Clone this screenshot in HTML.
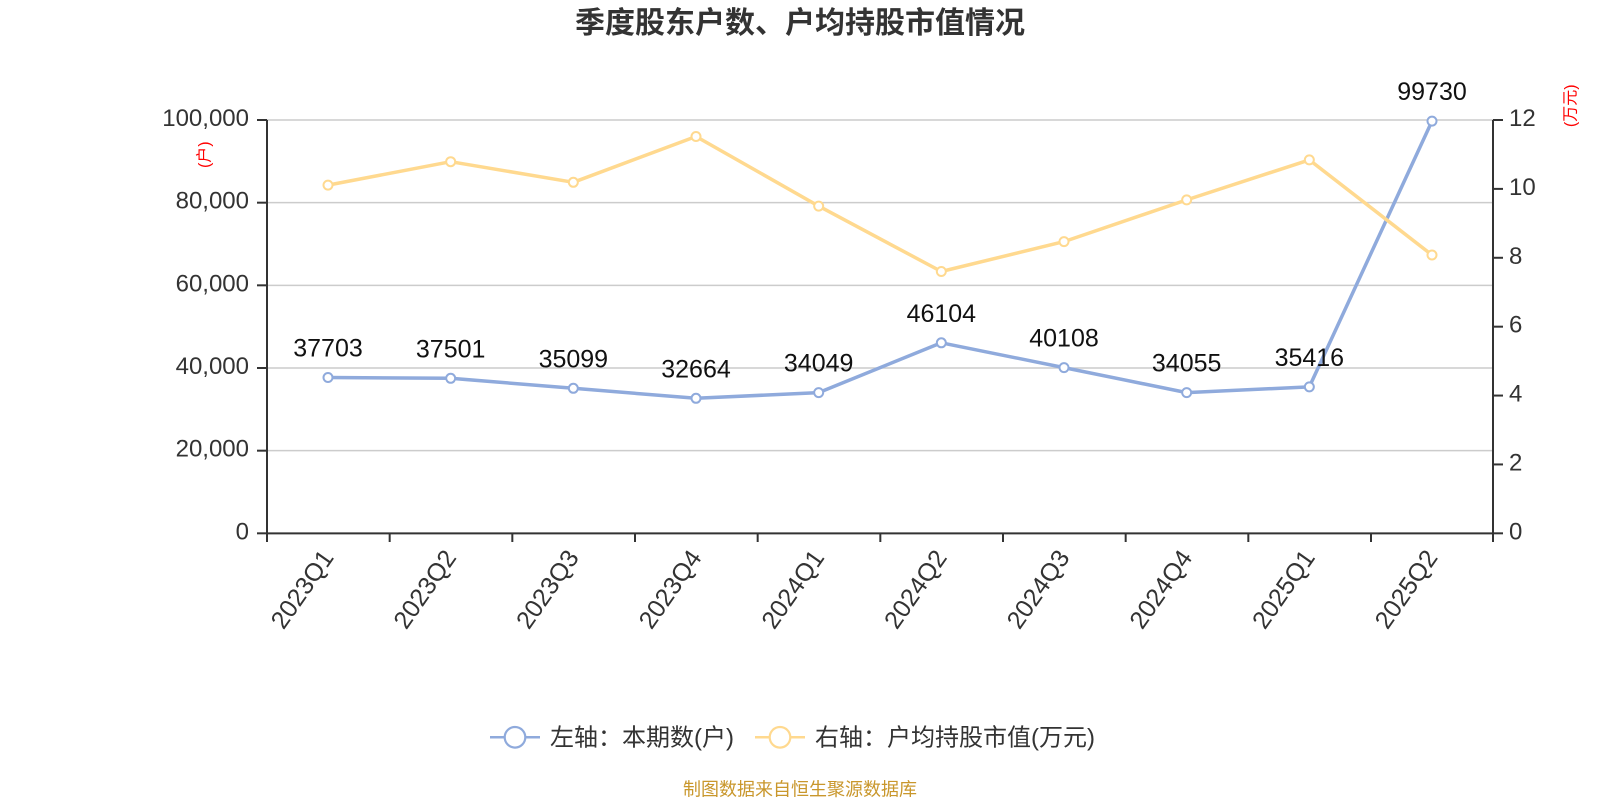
<!DOCTYPE html>
<html>
<head>
<meta charset="utf-8">
<style>
  html,body{margin:0;padding:0;background:#fff;}
  svg{display:block;}
  text{font-family:"Liberation Sans","Noto Sans CJK SC",sans-serif;}
</style>
</head>
<body>
<svg width="1600" height="800" viewBox="0 0 1600 800" xmlns="http://www.w3.org/2000/svg">
  <rect width="1600" height="800" fill="#fff"/>

  <!-- Title -->
  <text x="800" y="33" text-anchor="middle" font-size="30" font-weight="bold" fill="#333">季度股东户数、户均持股市值情况</text>

  <!-- Grid lines -->
  <g stroke="#cccccc" stroke-width="1.5">
    <line x1="267" y1="120" x2="1493" y2="120"/>
    <line x1="267" y1="202.67" x2="1493" y2="202.67"/>
    <line x1="267" y1="285.33" x2="1493" y2="285.33"/>
    <line x1="267" y1="368" x2="1493" y2="368"/>
    <line x1="267" y1="450.67" x2="1493" y2="450.67"/>
  </g>

  <!-- Axes -->
  <g stroke="#333" stroke-width="2" fill="none">
    <line x1="267" y1="120" x2="267" y2="534"/>
    <line x1="1493" y1="120" x2="1493" y2="534"/>
    <line x1="266" y1="533.33" x2="1494" y2="533.33"/>
    <line x1="257" y1="120" x2="267" y2="120"/>
    <line x1="257" y1="202.67" x2="267" y2="202.67"/>
    <line x1="257" y1="285.33" x2="267" y2="285.33"/>
    <line x1="257" y1="368" x2="267" y2="368"/>
    <line x1="257" y1="450.67" x2="267" y2="450.67"/>
    <line x1="257" y1="533.33" x2="267" y2="533.33"/>
    <line x1="1493" y1="120" x2="1503" y2="120"/>
    <line x1="1493" y1="188.89" x2="1503" y2="188.89"/>
    <line x1="1493" y1="257.78" x2="1503" y2="257.78"/>
    <line x1="1493" y1="326.67" x2="1503" y2="326.67"/>
    <line x1="1493" y1="395.56" x2="1503" y2="395.56"/>
    <line x1="1493" y1="464.44" x2="1503" y2="464.44"/>
    <line x1="1493" y1="533.33" x2="1503" y2="533.33"/>
    <line x1="267" y1="533" x2="267" y2="542"/>
    <line x1="389.67" y1="533" x2="389.67" y2="542"/>
    <line x1="512.33" y1="533" x2="512.33" y2="542"/>
    <line x1="635" y1="533" x2="635" y2="542"/>
    <line x1="757.67" y1="533" x2="757.67" y2="542"/>
    <line x1="880.33" y1="533" x2="880.33" y2="542"/>
    <line x1="1003" y1="533" x2="1003" y2="542"/>
    <line x1="1125.67" y1="533" x2="1125.67" y2="542"/>
    <line x1="1248.33" y1="533" x2="1248.33" y2="542"/>
    <line x1="1371" y1="533" x2="1371" y2="542"/>
    <line x1="1493" y1="533" x2="1493" y2="542"/>
  </g>

  <!-- Left axis labels -->
  <g font-size="24" fill="#333" text-anchor="end">
    <text x="249" y="126">100,000</text>
    <text x="249" y="208.67">80,000</text>
    <text x="249" y="291.33">60,000</text>
    <text x="249" y="374">40,000</text>
    <text x="249" y="456.67">20,000</text>
    <text x="249" y="539.33">0</text>
  </g>

  <!-- Right axis labels -->
  <g font-size="24" fill="#333" text-anchor="start">
    <text x="1509" y="126">12</text>
    <text x="1509" y="194.89">10</text>
    <text x="1509" y="263.78">8</text>
    <text x="1509" y="332.67">6</text>
    <text x="1509" y="401.56">4</text>
    <text x="1509" y="470.44">2</text>
    <text x="1509" y="539.33">0</text>
  </g>

  <!-- Axis names -->
  <text x="0" y="0" font-size="16" fill="#ff0000" text-anchor="middle" dominant-baseline="central" transform="translate(205,154.7) rotate(-90)">(户)</text>
  <text x="0" y="0" font-size="16" fill="#ff0000" text-anchor="middle" dominant-baseline="central" transform="translate(1571,105.8) rotate(-90)">(万元)</text>

  <!-- X axis labels -->
  <g font-size="25" fill="#333" text-anchor="end" dominant-baseline="central">
    <text transform="translate(328,553) rotate(-55)">2023Q1</text>
    <text transform="translate(450.67,553) rotate(-55)">2023Q2</text>
    <text transform="translate(573.33,553) rotate(-55)">2023Q3</text>
    <text transform="translate(696,553) rotate(-55)">2023Q4</text>
    <text transform="translate(818.67,553) rotate(-55)">2024Q1</text>
    <text transform="translate(941.33,553) rotate(-55)">2024Q2</text>
    <text transform="translate(1064,553) rotate(-55)">2024Q3</text>
    <text transform="translate(1186.67,553) rotate(-55)">2024Q4</text>
    <text transform="translate(1309.33,553) rotate(-55)">2025Q1</text>
    <text transform="translate(1432,553) rotate(-55)">2025Q2</text>
  </g>

  <!-- Blue series -->
  <polyline fill="none" stroke="#8FAADC" stroke-width="3.5" stroke-linejoin="round"
    points="328,377.5 450.67,378.3 573.33,388.3 696,398.3 818.67,392.6 941.33,342.8 1064,367.6 1186.67,392.6 1309.33,386.9 1432,121.1"/>
  <g fill="#fff" stroke="#8FAADC" stroke-width="2">
    <circle cx="328" cy="377.5" r="4.5"/>
    <circle cx="450.67" cy="378.3" r="4.5"/>
    <circle cx="573.33" cy="388.3" r="4.5"/>
    <circle cx="696" cy="398.3" r="4.5"/>
    <circle cx="818.67" cy="392.6" r="4.5"/>
    <circle cx="941.33" cy="342.8" r="4.5"/>
    <circle cx="1064" cy="367.6" r="4.5"/>
    <circle cx="1186.67" cy="392.6" r="4.5"/>
    <circle cx="1309.33" cy="386.9" r="4.5"/>
    <circle cx="1432" cy="121.1" r="4.5"/>
  </g>

  <!-- Yellow series -->
  <polyline fill="none" stroke="#FFD98F" stroke-width="3.5" stroke-linejoin="round"
    points="328,185.1 450.67,161.7 573.33,182.3 696,136.5 818.67,206.1 941.33,271.5 1064,241.6 1186.67,199.9 1309.33,159.9 1432,255"/>
  <g fill="#fff" stroke="#FFD98F" stroke-width="2">
    <circle cx="328" cy="185.1" r="4.5"/>
    <circle cx="450.67" cy="161.7" r="4.5"/>
    <circle cx="573.33" cy="182.3" r="4.5"/>
    <circle cx="696" cy="136.5" r="4.5"/>
    <circle cx="818.67" cy="206.1" r="4.5"/>
    <circle cx="941.33" cy="271.5" r="4.5"/>
    <circle cx="1064" cy="241.6" r="4.5"/>
    <circle cx="1186.67" cy="199.9" r="4.5"/>
    <circle cx="1309.33" cy="159.9" r="4.5"/>
    <circle cx="1432" cy="255" r="4.5"/>
  </g>

  <!-- Data labels -->
  <g font-size="25" fill="#111" text-anchor="middle">
    <text x="328" y="356.5">37703</text>
    <text x="450.67" y="357.3">37501</text>
    <text x="573.33" y="367.3">35099</text>
    <text x="696" y="377.3">32664</text>
    <text x="818.67" y="371.6">34049</text>
    <text x="941.33" y="321.8">46104</text>
    <text x="1064" y="346.6">40108</text>
    <text x="1186.67" y="371.6">34055</text>
    <text x="1309.33" y="365.9">35416</text>
    <text x="1432" y="100.1">99730</text>
  </g>

  <!-- Legend -->
  <g>
    <line x1="490" y1="737.3" x2="540" y2="737.3" stroke="#8FAADC" stroke-width="2.5"/>
    <circle cx="515" cy="737.3" r="10.3" fill="#fff" stroke="#8FAADC" stroke-width="2.2"/>
    <text x="550" y="745.5" font-size="24" fill="#333">左轴：本期数(户)</text>

    <line x1="755" y1="737.3" x2="805" y2="737.3" stroke="#FFD98F" stroke-width="2.5"/>
    <circle cx="780" cy="737.3" r="10.3" fill="#fff" stroke="#FFD98F" stroke-width="2.2"/>
    <text x="815" y="745.5" font-size="24" fill="#333">右轴：户均持股市值(万元)</text>
  </g>

  <!-- Footer -->
  <text x="800" y="795.5" text-anchor="middle" font-size="18" fill="#c9972c">制图数据来自恒生聚源数据库</text>
</svg>
</body>
</html>
